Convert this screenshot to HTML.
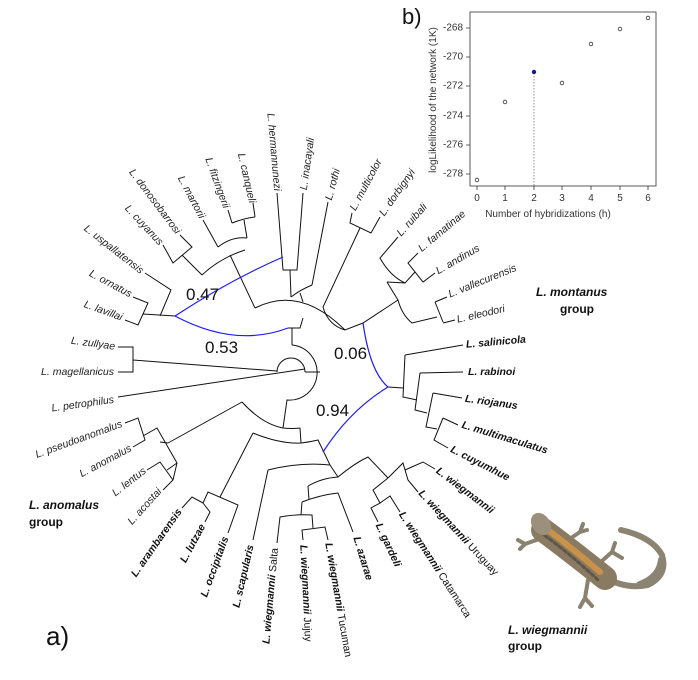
<!DOCTYPE html>
<html><head><meta charset="utf-8"><style>
html,body{margin:0;padding:0;background:#fff;}
svg{display:block;font-family:"Liberation Sans",sans-serif;}
.t{font-size:10.5px;font-style:italic;fill:#222;}
.b{font-size:10.5px;font-style:italic;font-weight:bold;fill:#111;}
.n{font-style:normal;font-weight:normal;}
</style></head><body>
<svg width="698" height="680" viewBox="0 0 698 680" xmlns="http://www.w3.org/2000/svg">
<g fill="none" stroke="#111" stroke-width="1">
<path d="M145,273L171,290L160,316M133,297L148,303L138,325L125,320M143,314L175,316"/>
<path d="M163,245L173,263L192,247L180,235M182,255L202,275"/>
<path d="M203,220L218,247M228,210L232,223M253,203L255,217M232,223Q245,218 255,217M244,220L247,238M218,247Q232,236 247,238"/>
<path d="M202,275Q220,258 245,250M230,255L255,308"/>
<path d="M277,193L283,270L297,270L303,193M290,270L291,297M328,202L312,285M291,297Q300,290 312,285"/>
<path d="M255,308Q300,285 345,330M300,293L303,302M288,328L300,328L303,318M292,328L292,345"/>
<path d="M352,213L350,223L371,233L380,217M360,228L323,307Q328,325 345,330L363,323L398,300"/>
<path d="M387,282Q393,292 398,300Q402,315 412,323L437,317M435,302L443,322M435,302L447,297M443,323L455,320"/>
<path d="M398,237L380,258Q390,276 405,283M418,253L408,263L423,282L435,273M415,272L405,283L387,282"/>
<path d="M277,372A14,14 0 0 1 305,372M133,360L277,371M118,347L133,347L133,372L118,372M118,397L305,369M305,372L320,372"/>
<path d="M292,345A27,27 0 0 1 287,400L283,428"/>
<path d="M242,402Q262,424 283,428Q292,429 300,428M300,428L301,443"/>
<path d="M253,433Q280,444 301,443Q310,442 318,440L330,465L338,477"/>
<path d="M268,470Q300,462 330,465"/>
<path d="M168,443L242,402M125,423L138,418L145,440L133,447M143,436L157,428L177,463L173,480L163,490M147,470L160,462L173,480M167,470L177,463M160,442L168,443"/>
<path d="M220,497L253,433M182,508L192,497L203,503L208,492L238,505L228,533M205,522L210,512L203,503"/>
<path d="M253,540L268,470"/>
<path d="M308,486Q322,478 338,477Q355,463 368,457L388,478M308,486L309,500"/>
<path d="M302,502Q320,495 338,493L353,532M302,502L301,515M277,543L280,517Q296,514 312,515L313,528M303,540L302,530L325,527L328,540"/>
<path d="M388,478L373,490L380,503L371,508L378,522M380,503L390,496L400,512"/>
<path d="M388,478L403,463L408,480L418,492M405,470L423,462L435,469"/>
<path d="M388,387L403,388M405,355L403,397L417,400M405,355L463,345M420,373L415,410L427,413M420,373L463,372M433,393L426,427L437,429M433,393L462,398M443,418L434,440L448,448M443,418L458,425"/>
</g>
<g fill="none" stroke="#1a1aff" stroke-width="1.2">
<path d="M175,316Q230,280 283,257M175,316Q235,348 288,328"/>
<path d="M363,323Q370,372 388,387M388,387Q350,410 323,452"/>
</g>
<g font-size="17" fill="#111">
<text x="186" y="300">0.47</text><text x="205" y="353">0.53</text>
<text x="334" y="359">0.06</text><text x="316" y="416">0.94</text>
</g>
<g class="t" text-anchor="end" dominant-baseline="middle">
<text transform="translate(115,347) rotate(8)">L. zullyae</text>
<text transform="translate(114,372)">L. magellanicus</text>
<text transform="translate(114,400) rotate(-8)">L. petrophilus</text>
<text transform="translate(122,424) rotate(-20)">L. pseudoanomalus</text>
<text transform="translate(131,448) rotate(-28)">L. anomalus</text>
<text transform="translate(145,470) rotate(-38)">L. lentus</text>
<text transform="translate(160,490) rotate(-48)">L. acostai</text>
<text class="b" transform="translate(180,510) rotate(-55)">L. arambarensis</text>
<text class="b" transform="translate(203,525) rotate(-62)">L. lutzae</text>
<text class="b" transform="translate(226,537) rotate(-70)">L. occipitalis</text>
<text class="b" transform="translate(251,545) rotate(-77)">L. scapularis</text>
<text class="b" transform="translate(275,548) rotate(-85)">L. wiegmannii <tspan class="n">Salta</tspan></text>
<text transform="translate(122,318) rotate(20)">L. lavillai</text>
<text transform="translate(131,295) rotate(28)">L. ornatus</text>
<text transform="translate(142,272) rotate(38)">L. uspallatensis</text>
<text transform="translate(161,244) rotate(47)">L. cuyanus</text>
<text transform="translate(178,233) rotate(53)">L. donosobarrosi</text>
<text transform="translate(202,218) rotate(62)">L. martorii</text>
<text transform="translate(226,208) rotate(70)">L. fitzingerii</text>
<text transform="translate(252,203) rotate(77)">L. canqueli</text>
<text transform="translate(277,191) rotate(85)">L. hermannunezi</text>
</g>
<g class="t" text-anchor="start" dominant-baseline="middle">
<text transform="translate(304,190) rotate(-82)">L. inacayali</text>
<text transform="translate(329,200) rotate(-75)">L. rothi</text>
<text transform="translate(353,210) rotate(-62)">L. multicolor</text>
<text transform="translate(382,215) rotate(-55)">L. dorbignyi</text>
<text transform="translate(399,235) rotate(-48)">L. ruibali</text>
<text transform="translate(420,250) rotate(-40)">L. famatinae</text>
<text transform="translate(437,272) rotate(-30)">L. andinus</text>
<text transform="translate(449,295) rotate(-22)">L. vallecurensis</text>
<text transform="translate(457,320) rotate(-13)">L. eleodori</text>
<text class="b" transform="translate(466,345) rotate(-5)">L. salinicola</text>
<text class="b" transform="translate(468,372)">L. rabinoi</text>
<text class="b" transform="translate(465,399) rotate(8)">L. riojanus</text>
<text class="b" transform="translate(462,425) rotate(17)">L. multimaculatus</text>
<text class="b" transform="translate(451,449) rotate(27)">L. cuyumhue</text>
<text class="b" transform="translate(437,470) rotate(37)">L. wiegmannii</text>
<text class="b" transform="translate(420,492) rotate(47)">L. wiegmannii <tspan class="n">Uruguay</tspan></text>
<text class="b" transform="translate(401,513) rotate(57)">L. wiegmannii <tspan class="n">Catamarca</tspan></text>
<text class="b" transform="translate(378,524) rotate(65)">L. gardeli</text>
<text class="b" transform="translate(356,537) rotate(73)">L. azarae</text>
<text class="b" transform="translate(328,543) rotate(80)">L. wiegmannii <tspan class="n">Tucuman</tspan></text>
<text class="b" transform="translate(303,545) rotate(87)">L. wiegmannii <tspan class="n">Jujuy</tspan></text>
</g>
<g font-size="12" font-weight="bold" fill="#111">
<text x="536" y="296" font-style="italic">L. montanus</text><text x="560" y="313">group</text>
<text x="29" y="509" font-style="italic">L. anomalus</text><text x="29" y="526">group</text>
<text x="508" y="634" font-style="italic">L. wiegmannii</text><text x="508" y="650">group</text>
</g>
<text x="46" y="645" font-size="26" fill="#111">a)</text>
<text x="402" y="24" font-size="22" fill="#111">b)</text>
<g stroke-linecap="round" stroke-linejoin="round" fill="none">
<path d="M600,575 Q625,590 648,585 Q668,575 662,555 Q652,537 621,530" stroke="#8c8472" stroke-width="6"/>
<path d="M640,585 Q660,578 662,560" stroke="#8c8472" stroke-width="8"/>
<path d="M542,538 L525,544 L518,540 M525,544 L520,549" stroke="#8a8270" stroke-width="4"/>
<path d="M568,540 L580,532 L583,524 M580,532 L587,530" stroke="#8a8270" stroke-width="4"/>
<path d="M603,560 L612,552 L615,543 M612,552 L622,558" stroke="#8a8270" stroke-width="4"/>
<path d="M588,580 L585,598 L580,607 M585,598 L592,606" stroke="#8a8270" stroke-width="4"/>
<path d="M543,530 Q570,550 605,578" stroke="#8a7a62" stroke-width="24"/>
<path d="M548,530 Q572,548 600,572" stroke="#c9924a" stroke-width="6"/>
<path d="M540,532 Q568,552 598,580" stroke="#5e5548" stroke-width="3" stroke-dasharray="3,3"/>
</g>
<ellipse cx="541" cy="524" rx="9" ry="12" transform="rotate(-35 541 524)" fill="#9c907c"/>
<g stroke="#333" stroke-width="0.8" fill="none">
<rect x="470" y="12" width="186" height="174"/>
<path d="M466,28H470M466,57H470M466,86H470M466,116H470M466,145H470M466,174H470"/>
<path d="M477,186V190M505,186V190M534,186V190M562,186V190M591,186V190M620,186V190M648,186V190"/>
<path d="M534,73V186" stroke-dasharray="1.5,1.5" stroke="#777"/>
<circle cx="477" cy="180" r="1.8"/><circle cx="505" cy="102" r="1.8"/><circle cx="562" cy="83" r="1.8"/>
<circle cx="591" cy="44" r="1.8"/><circle cx="620" cy="29" r="1.8"/><circle cx="648" cy="18" r="1.8"/>
</g>
<circle cx="534" cy="72" r="2.2" fill="#1a1a80"/>
<g font-size="10" fill="#333" text-anchor="end" dominant-baseline="middle">
<text x="463" y="28">-268</text><text x="463" y="57">-270</text><text x="463" y="86">-272</text>
<text x="463" y="116">-274</text><text x="463" y="145">-276</text><text x="463" y="174">-278</text>
</g>
<g font-size="10" fill="#333" text-anchor="middle">
<text x="477" y="201">0</text><text x="505" y="201">1</text><text x="534" y="201">2</text><text x="562" y="201">3</text>
<text x="591" y="201">4</text><text x="620" y="201">5</text><text x="648" y="201">6</text>
<text x="548" y="217">Number of  hybridizations (h)</text>
<text transform="translate(436,100) rotate(-90)">logLikelihood of the network (1K)</text>
</g>
</svg>
</body></html>
